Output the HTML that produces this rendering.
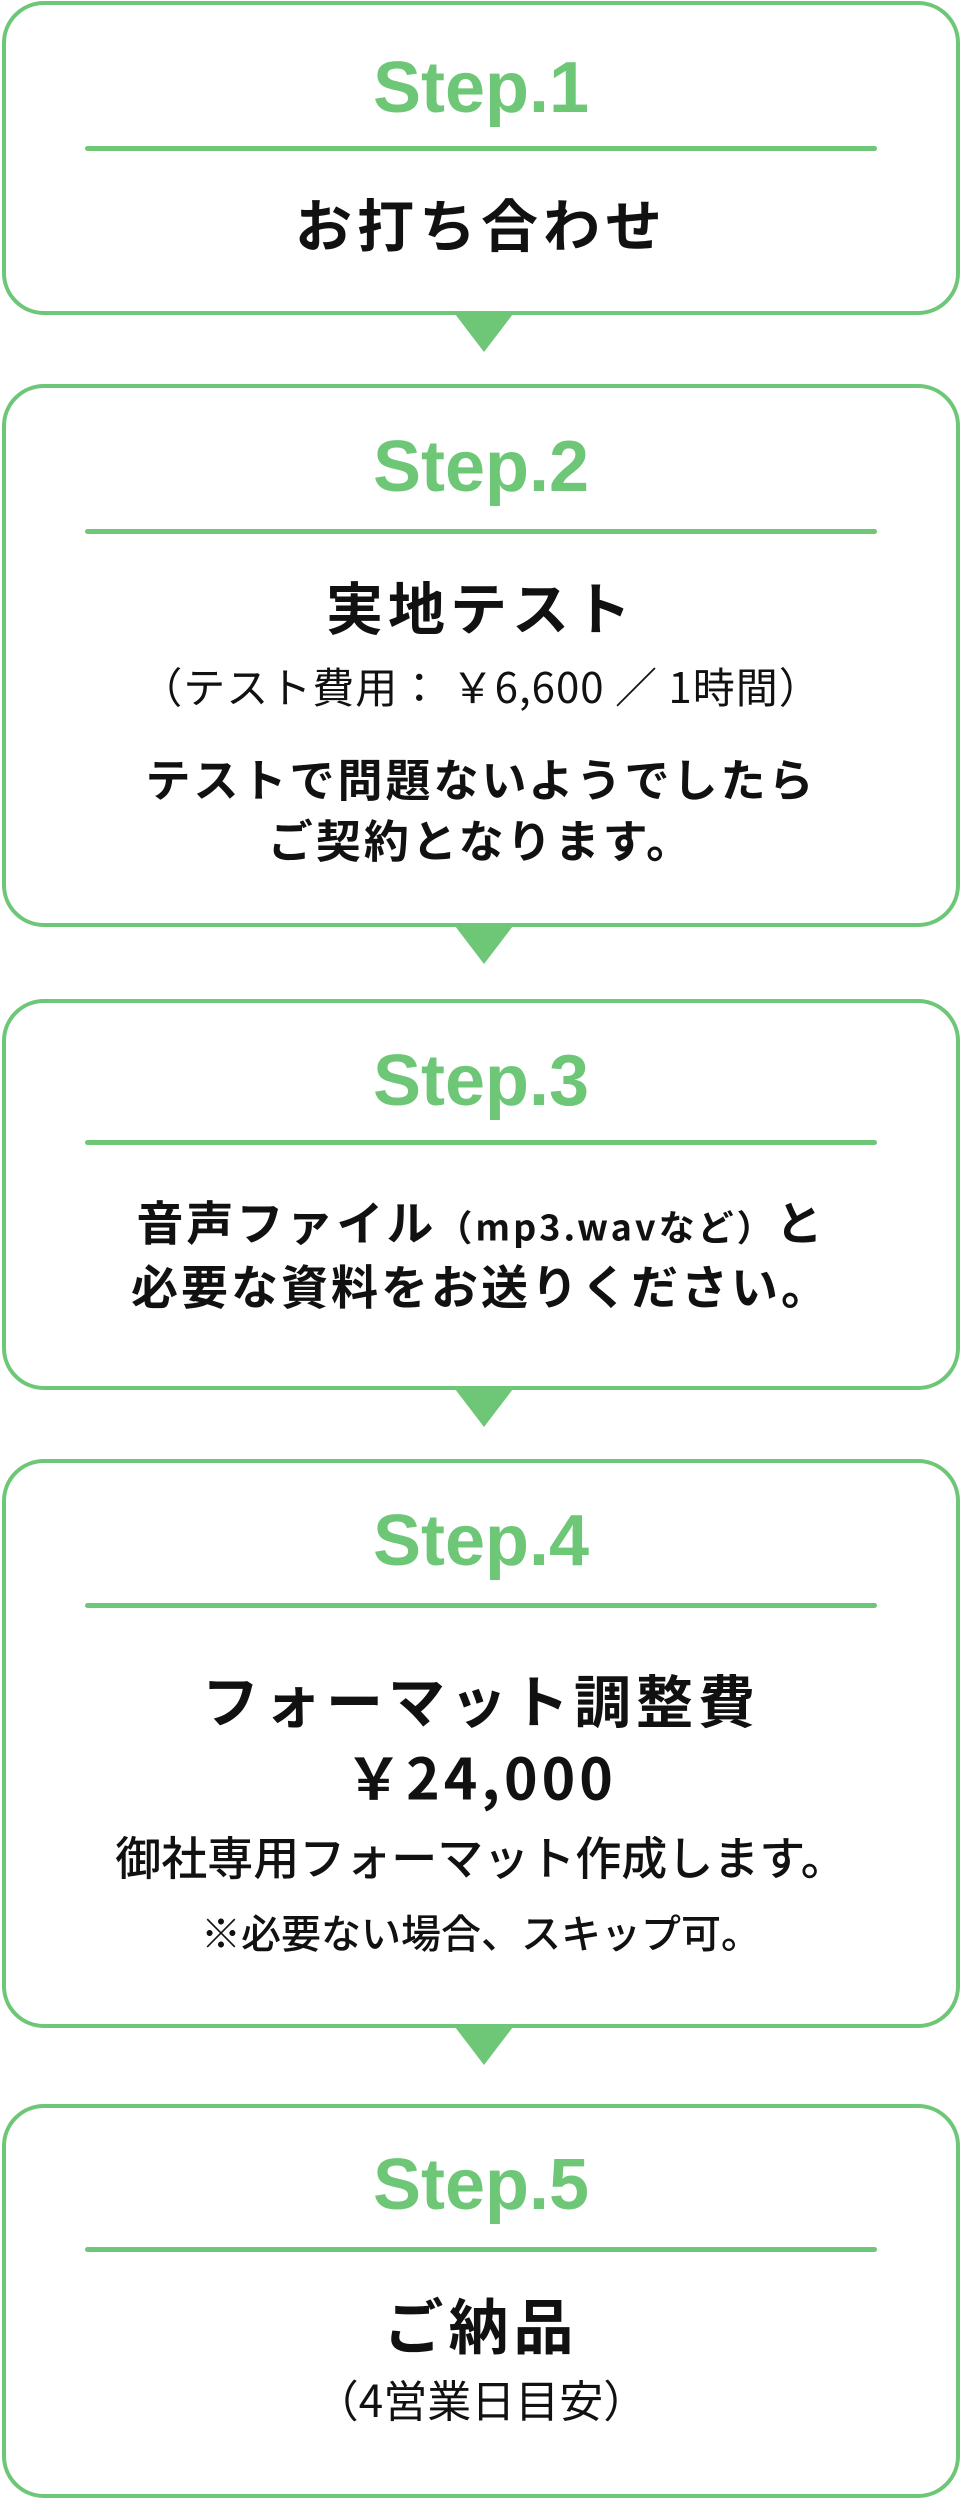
<!DOCTYPE html>
<html><head><meta charset="utf-8"><style>
body{margin:0;width:962px;height:2500px;background:#fff;position:relative;overflow:hidden;font-family:"Liberation Sans","Noto Sans CJK JP",sans-serif;color:#111}
.box{position:absolute;left:2px;width:950px;border:4px solid #6dc777;border-radius:42px;background:#fff}
.line{position:absolute;left:85px;width:792px;height:5px;background:#6dc777;border-radius:3px}
.step{position:absolute;left:0;width:962px;text-align:center;color:#6dc777;font-weight:bold;font-size:72px;line-height:1;transform:translateY(-50%)}
.t{position:absolute;left:0;width:962px;text-align:center;line-height:1;transform:translateY(-50%);font-family:"Noto Sans CJK JP","Liberation Sans",sans-serif;white-space:nowrap}
.b{font-weight:bold;font-size:57px;letter-spacing:5px}
.m{font-weight:bold;font-size:45px;letter-spacing:3px}
.r{font-weight:400;font-size:42px}
.arr{position:absolute;left:455px;width:0;height:0;border-left:29px solid transparent;border-right:29px solid transparent;border-top:38px solid #6dc777}
</style></head><body>
<div class="box" style="top:1px;height:306px"></div>
<div class="step" style="top:88px">Step.1</div>
<div class="line" style="top:146px"></div>
<div class="t b" style="top:223px">お打ち合わせ</div>
<div class="arr" style="top:314px"></div>

<div class="box" style="top:384px;height:535px"></div>
<div class="step" style="top:467px">Step.2</div>
<div class="line" style="top:529px"></div>
<div class="t b" style="top:606px">実地テスト</div>
<div class="t r" style="top:686px;letter-spacing:1px">（テスト費用： ￥6,600 ／ 1時間）</div>
<div class="t m" style="top:777px">テストで問題ないようでしたら</div>
<div class="t m" style="top:838px">ご契約となります。</div>
<div class="arr" style="top:926px"></div>

<div class="box" style="top:999px;height:383px"></div>
<div class="step" style="top:1081px">Step.3</div>
<div class="line" style="top:1140px"></div>
<div class="t m" style="top:1220px;font-size:47px">音声ファイル<span style="font-size:36px;letter-spacing:3px">（mp3.wavなど）</span>と</div>
<div class="t m" style="top:1284px;font-size:47px">必要な資料をお送りください。</div>
<div class="arr" style="top:1389px"></div>

<div class="box" style="top:1459px;height:561px"></div>
<div class="step" style="top:1541px">Step.4</div>
<div class="line" style="top:1603px"></div>
<div class="t b" style="top:1699px">フォーマット調整費</div>
<div class="t b" style="top:1776px;letter-spacing:4px">￥24,000</div>
<div class="t r" style="top:1856px;font-weight:500;font-size:46px">御社専用フォーマット作成します。</div>
<div class="t r" style="top:1931px;font-weight:500;font-size:40px">※必要ない場合、スキップ可。</div>
<div class="arr" style="top:2027px"></div>

<div class="box" style="top:2104px;height:386px"></div>
<div class="step" style="top:2185px">Step.5</div>
<div class="line" style="top:2247px"></div>
<div class="t b" style="top:2324px;font-size:60px">ご納品</div>
<div class="t r" style="top:2398px;font-size:44px">（4営業日目安）</div>
</body></html>
